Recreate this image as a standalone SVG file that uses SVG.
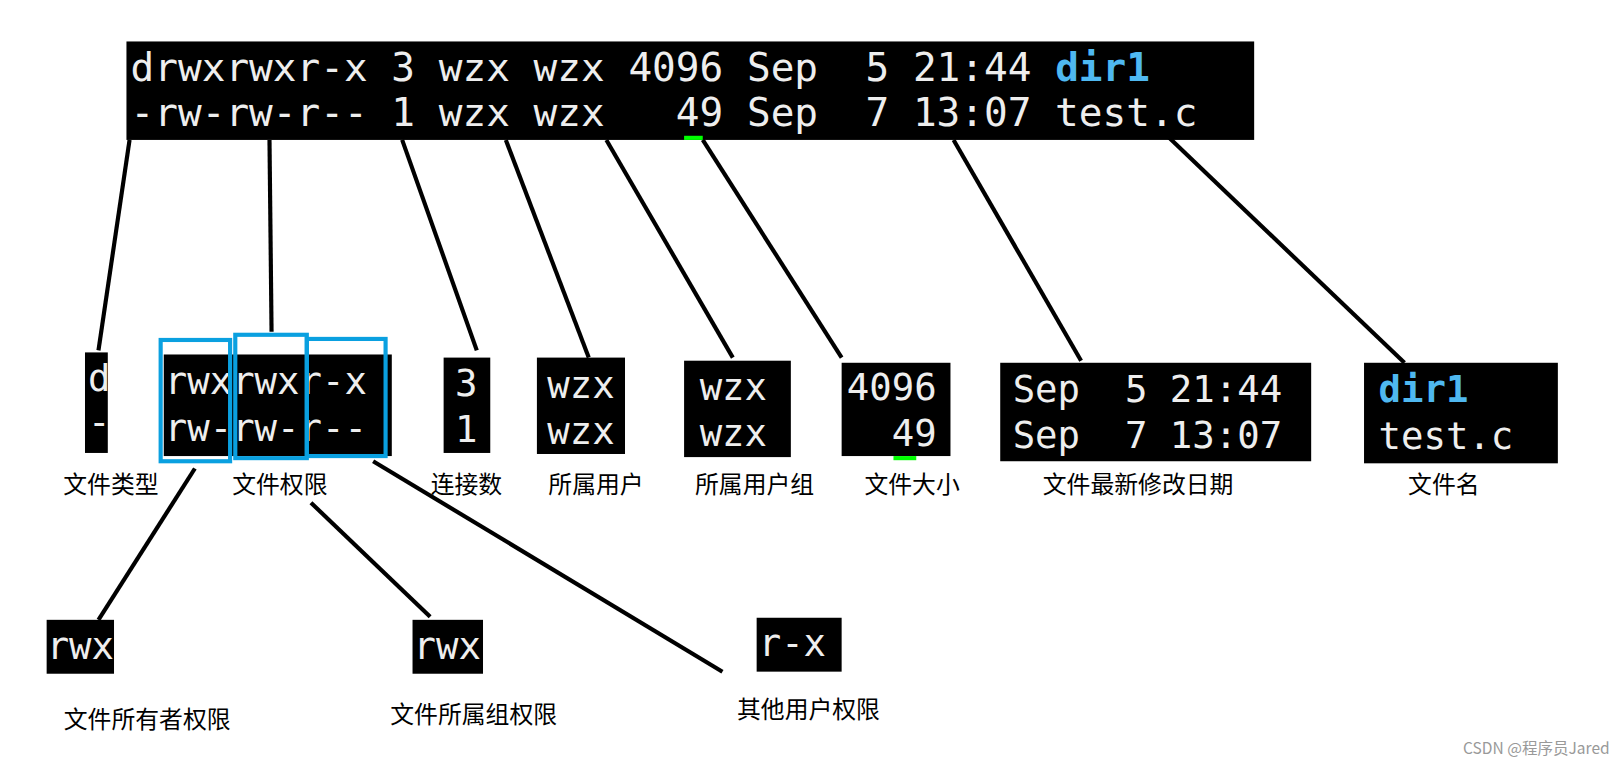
<svg xmlns="http://www.w3.org/2000/svg" width="1620" height="763" viewBox="0 0 1620 763">
<style>
.t{font-family:"DejaVu Sans Mono","Liberation Mono",monospace;fill:#eee;}
.big{font-size:38px;}
.mid{font-size:36px;}
.lb{font-family:"Noto Sans CJK SC","Noto Sans",sans-serif;font-size:23px;fill:#000;text-anchor:middle;}
.bx{fill:#000;}
.bl{fill:none;stroke:#0aa0e0;stroke-width:4;}
.ln{stroke:#000;stroke-width:4;fill:none;}
.dir{fill:#4fb8f0;font-weight:bold;}
</style>
<rect width="1620" height="763" fill="#fff"/>
<g transform="scale(1.0365)">
<g id="top">
<rect class="bx" x="122" y="40" width="1088" height="95"/>
<text class="t big" x="126" y="78" xml:space="preserve">drwxrwxr-x 3 wzx wzx 4096 Sep  5 21:44 <tspan class="dir">dir1</tspan></text>
<text class="t big" x="126" y="122" xml:space="preserve">-rw-rw-r-- 1 wzx wzx   49 Sep  7 13:07 test.c</text>
<rect x="660" y="131" width="18" height="4" fill="#0f0"/>
</g>
<g id="connectors">
<line class="ln" x1="125" y1="135" x2="95" y2="338"/>
<line class="ln" x1="260" y1="135" x2="262" y2="320"/>
<line class="ln" x1="388" y1="135" x2="460" y2="338"/>
<line class="ln" x1="488" y1="135" x2="568" y2="345"/>
<line class="ln" x1="585" y1="135" x2="707" y2="345"/>
<line class="ln" x1="678" y1="135" x2="812" y2="345"/>
<line class="ln" x1="920" y1="135" x2="1043" y2="348"/>
<line class="ln" x1="1125" y1="130" x2="1355" y2="350"/>
<line class="ln" x1="188" y1="452" x2="95" y2="598"/>
<line class="ln" x1="300" y1="485" x2="415" y2="595"/>
<line class="ln" x1="360" y1="445" x2="697" y2="648"/>
</g>
<g id="type">
<rect class="bx" x="82" y="340" width="22" height="97"/>
<text class="t mid" x="85" y="377">d</text>
<text class="t mid" x="85" y="420">-</text>
<text class="lb" x="107" y="476">文件类型</text>
</g>
<g id="perm">
<rect class="bx" x="158" y="342" width="220" height="98"/>
<text class="t mid" x="159" y="380">rwxrwxr-x</text>
<text class="t mid" x="159" y="425">rw-rw-r--</text>
<rect class="bl" x="155" y="328" width="67" height="117"/>
<rect class="bl" x="227" y="323" width="69" height="119"/>
<rect class="bl" x="296" y="327" width="76" height="113"/>
<text class="lb" x="270" y="476">文件权限</text>
</g>
<g id="links">
<rect class="bx" x="428" y="345" width="45" height="92"/>
<text class="t mid" x="439" y="382">3</text>
<text class="t mid" x="439" y="426">1</text>
<text class="lb" x="450" y="476">连接数</text>
</g>
<g id="user">
<rect class="bx" x="518" y="345" width="85" height="93"/>
<text class="t mid" x="528" y="384">wzx</text>
<text class="t mid" x="528" y="428">wzx</text>
<text class="lb" x="575" y="476">所属用户</text>
</g>
<g id="group">
<rect class="bx" x="660" y="348" width="103" height="93"/>
<text class="t mid" x="675" y="386">wzx</text>
<text class="t mid" x="675" y="430">wzx</text>
<text class="lb" x="728" y="476">所属用户组</text>
</g>
<g id="size">
<rect class="bx" x="812" y="350" width="105" height="90"/>
<text class="t mid" x="817" y="386">4096</text>
<text class="t mid" x="817" y="430" xml:space="preserve">  49</text>
<rect x="862" y="440" width="22" height="4" fill="#0f0"/>
<text class="lb" x="880" y="476">文件大小</text>
</g>
<g id="date">
<rect class="bx" x="965" y="350" width="300" height="95"/>
<text class="t mid" x="977" y="388" xml:space="preserve">Sep  5 21:44</text>
<text class="t mid" x="977" y="432" xml:space="preserve">Sep  7 13:07</text>
<text class="lb" x="1098" y="476">文件最新修改日期</text>
</g>
<g id="name">
<rect class="bx" x="1316" y="350" width="187" height="97"/>
<text class="t mid dir" x="1330" y="388">dir1</text>
<text class="t mid" x="1330" y="433">test.c</text>
<text class="lb" x="1393" y="476">文件名</text>
</g>
<g id="owner">
<rect class="bx" x="45" y="598" width="65" height="52"/>
<text class="t mid" x="45" y="636">rwx</text>
<text class="lb" x="142" y="702">文件所有者权限</text>
</g>
<g id="grp">
<rect class="bx" x="398" y="598" width="68" height="52"/>
<text class="t mid" x="399" y="636">rwx</text>
<text class="lb" x="457" y="698">文件所属组权限</text>
</g>
<g id="other">
<rect class="bx" x="730" y="596" width="82" height="52"/>
<text class="t mid" x="732" y="633">r-x</text>
<text class="lb" x="780" y="693">其他用户权限</text>
</g>
<text x="1553" y="727" text-anchor="end" font-family="Noto Sans CJK SC,Noto Sans,sans-serif" font-size="15" fill="#999">CSDN @程序员Jared</text>
</g>
</svg>
